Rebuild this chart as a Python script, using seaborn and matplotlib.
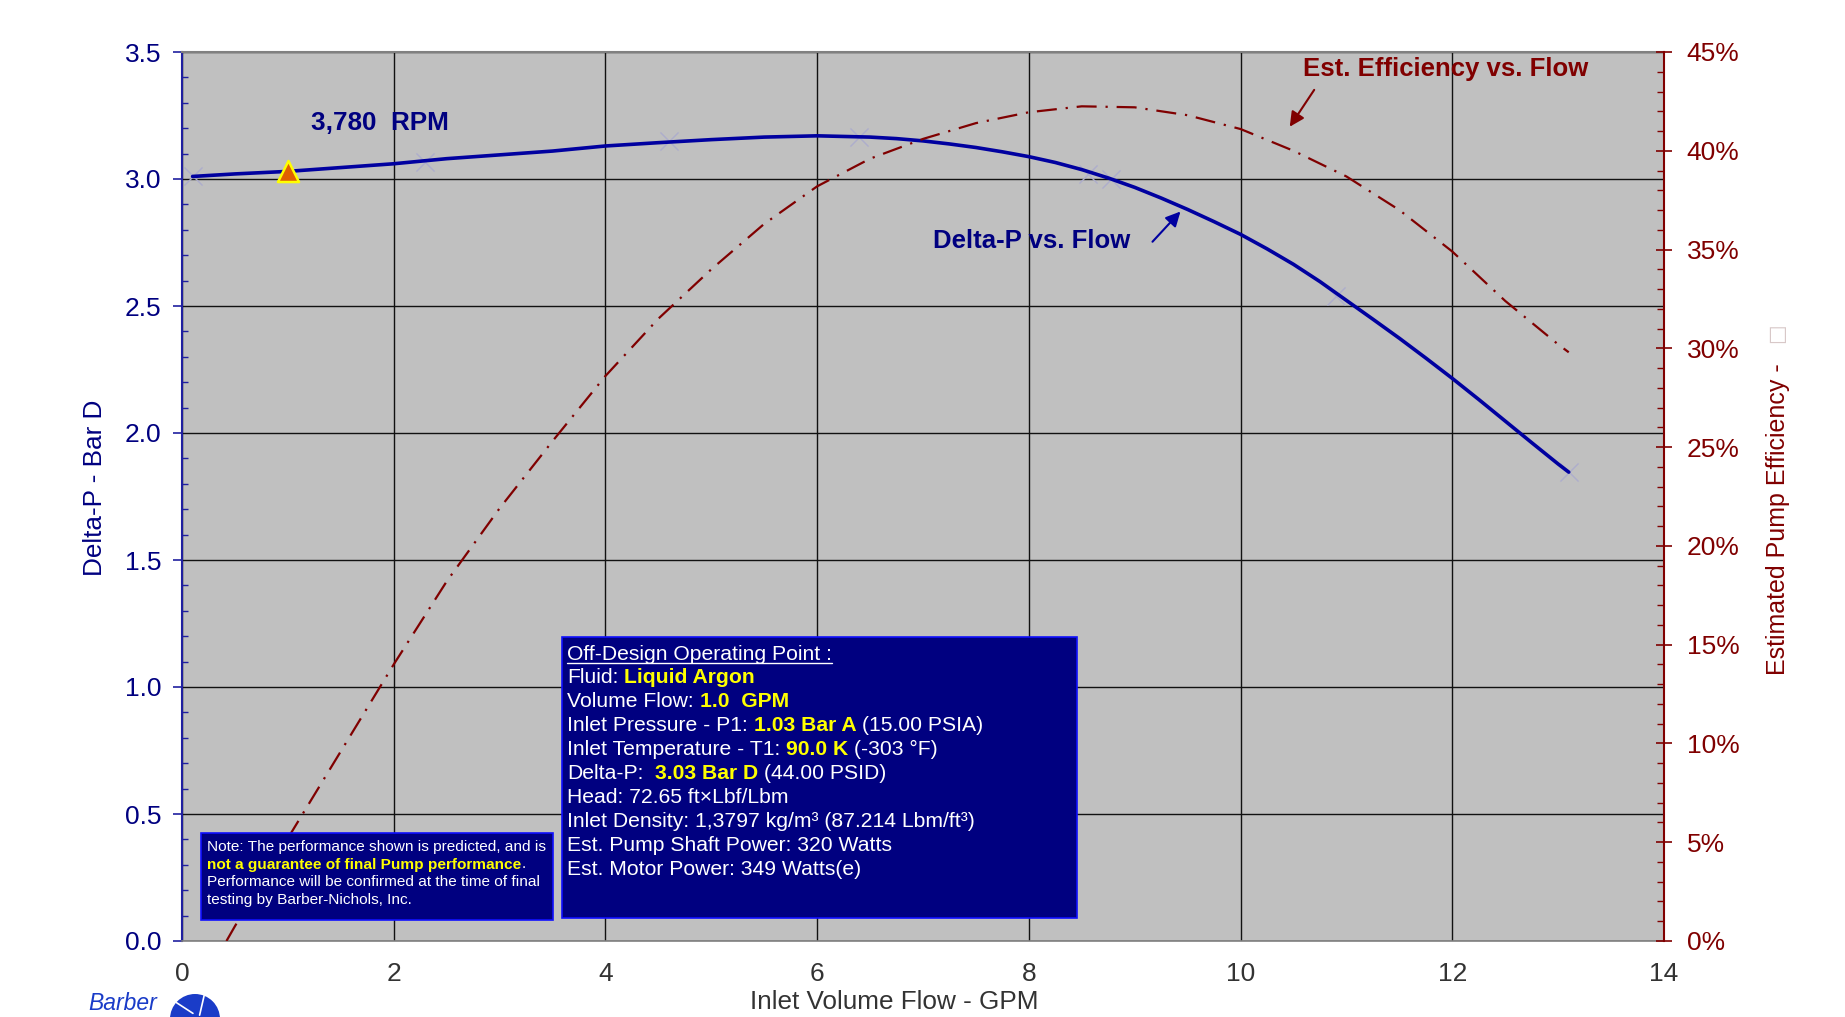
import numpy as np
import pandas as pd
import matplotlib
matplotlib.use('Agg')
import matplotlib.pyplot as plt
import seaborn as sns
from matplotlib.ticker import MultipleLocator, FuncFormatter
from matplotlib.patches import Rectangle, Circle
from matplotlib.lines import Line2D

# Delta-P vs flow curve (GPM, Bar D)
flow_dp = [0.1, 0.5, 1.0, 1.5, 2.0, 2.5, 3.0, 3.5, 4.0, 4.5, 5.0, 5.5, 6.0, 6.5, 6.75,
           7.0, 7.25, 7.5, 7.75, 8.0, 8.25, 8.5, 8.75, 9.0, 9.25, 9.5, 9.75, 10.0,
           10.25, 10.5, 10.75, 11.0, 11.25, 11.5, 11.75, 12.0, 12.25, 12.5, 12.75, 13.0, 13.1]
delta_p = [3.01, 3.02, 3.03, 3.045, 3.06, 3.08, 3.095, 3.11, 3.13, 3.143, 3.155, 3.165, 3.17, 3.165, 3.159,
           3.150, 3.138, 3.124, 3.107, 3.088, 3.065, 3.037, 3.004, 2.967, 2.925, 2.880, 2.832, 2.782,
           2.725, 2.664, 2.596, 2.522, 2.448, 2.373, 2.295, 2.215, 2.132, 2.047, 1.962, 1.878, 1.846]

# faint data markers sitting on the delta-P curve
flow_pts = [0.1, 2.3, 4.6, 6.4, 8.56, 8.78, 10.9, 13.1]
delta_p_pts = [3.01, 3.067, 3.15, 3.165, 3.02, 3.00, 2.54, 1.846]

# efficiency vs flow (%)
flow_eff = [0.42, 0.5, 1.0, 1.5, 2.0, 2.5, 3.0, 3.5, 4.0, 4.5, 5.0, 5.5, 6.0, 6.5,
            7.0, 7.5, 8.0, 8.5, 9.0, 9.5, 10.0, 10.5, 11.0, 11.5, 12.0, 12.5, 13.0, 13.1]
efficiency = [0.0, 0.75, 5.2, 9.6, 14.0, 18.2, 21.9, 25.3, 28.6, 31.5, 34.0, 36.3, 38.2, 39.6,
              40.6, 41.4, 41.95, 42.25, 42.2, 41.8, 41.1, 40.0, 38.7, 37.0, 34.9, 32.4, 30.2, 29.8]

# operating point
op_flow = [1.0]
op_dp = [3.03]

x_ticks = [0, 2, 4, 6, 8, 10, 12, 14]

info_lines = [
    [("Off-Design Operating Point :", "white", "normal")],
    [("Fluid: ", "white", "normal"), ("Liquid Argon", "#FFFF00", "bold")],
    [("Volume Flow: ", "white", "normal"), ("1.0  GPM", "#FFFF00", "bold")],
    [("Inlet Pressure - P1: ", "white", "normal"), ("1.03 Bar A", "#FFFF00", "bold"),
     (" (15.00 PSIA)", "white", "normal")],
    [("Inlet Temperature - T1: ", "white", "normal"), ("90.0 K", "#FFFF00", "bold"),
     (" (-303 °F)", "white", "normal")],
    [("Delta-P:  ", "white", "normal"), ("3.03 Bar D", "#FFFF00", "bold"),
     (" (44.00 PSID)", "white", "normal")],
    [("Head: 72.65 ft×Lbf/Lbm", "white", "normal")],
    [("Inlet Density: 1,3797 kg/m³ (87.214 Lbm/ft³)", "white", "normal")],
    [("Est. Pump Shaft Power: 320 Watts", "white", "normal")],
    [("Est. Motor Power: 349 Watts(e)", "white", "normal")],
]

note_lines = [
    [("Note: The performance shown is predicted, and is", "white", "normal")],
    [("not a guarantee of final Pump performance", "#FFFF00", "bold"), (".", "white", "normal")],
    [("Performance will be confirmed at the time of final", "white", "normal")],
    [("testing by Barber-Nichols, Inc.", "white", "normal")],
]

NAVY = '#000080'
BLUE = '#0000A0'
DARKRED = '#800000'

sns.set_style('white')
plt.rcParams['font.family'] = ['Liberation Sans', 'DejaVu Sans']

W, H = 1845, 1017
fig = plt.figure(figsize=(W / 100, H / 100), dpi=100)
r = fig.canvas.get_renderer()


def px(x, y):
    # pixel position measured from the top-left corner -> figure fraction
    return x / W, 1 - y / H


ax = fig.add_axes([182 / W, 1 - 941 / H, (1664 - 182) / W, (941 - 52) / H])
ax.set_facecolor('#C0C0C0')

sns.lineplot(x=flow_dp, y=delta_p, ax=ax, color=BLUE, lw=2.6, zorder=4)
sns.scatterplot(x=flow_pts, y=delta_p_pts, ax=ax, marker='x', s=170, color='#ADADCC',
                linewidth=1.0, zorder=3)
sns.scatterplot(x=op_flow, y=op_dp, ax=ax, marker='^', s=230, color='#E06000',
                edgecolor='#FFFF00', linewidth=1.8, zorder=5)

ax.set_xlim(0, 14)
ax.set_ylim(0, 3.5)
ax.set_xticks(x_ticks)
ax.yaxis.set_major_locator(MultipleLocator(0.5))
ax.yaxis.set_minor_locator(MultipleLocator(0.1))
ax.yaxis.set_major_formatter(FuncFormatter(lambda v, p: f'{v:.1f}'))
ax.grid(True, which='major', color='#111111', lw=1.0)
ax.set_xlabel('')
ax.set_ylabel('')

ax.tick_params(axis='y', which='major', direction='out', length=6.5, width=1.2,
               color='#2020A0', labelcolor=NAVY, labelsize=19, pad=8.5)
ax.tick_params(axis='y', which='minor', direction='in', length=4.3, width=1.0, color='#2020A0')
ax.tick_params(axis='x', which='major', direction='out', length=4.3, width=1.0,
               color='#808080', labelcolor='#333333', labelsize=19, pad=11)

ax.spines['left'].set_color('#2020A0')
ax.spines['left'].set_linewidth(1.5)
ax.spines['top'].set_color('#808080')
ax.spines['top'].set_linewidth(1.5)
ax.spines['bottom'].set_color('#808080')
ax.spines['bottom'].set_linewidth(1.2)
ax.spines['right'].set_visible(False)

ax2 = ax.twinx()
sns.lineplot(x=flow_eff, y=efficiency, ax=ax2, color=DARKRED, lw=1.6,
             linestyle=(0, (9, 4, 1, 4)), zorder=4)
ax2.set_ylim(0, 45)
ax2.set_ylabel('')
ax2.yaxis.set_major_locator(MultipleLocator(5))
ax2.yaxis.set_minor_locator(MultipleLocator(1))
ax2.yaxis.set_major_formatter(FuncFormatter(lambda v, p: f'{v:.0f}%'))
ax2.tick_params(axis='y', which='major', direction='inout', length=11.5, width=1.2,
                color=DARKRED, labelcolor=DARKRED, labelsize=19, pad=10.5)
ax2.tick_params(axis='y', which='minor', direction='in', length=5, width=1.0, color=DARKRED)
for side in ['left', 'top', 'bottom']:
    ax2.spines[side].set_visible(False)
ax2.spines['right'].set_color(DARKRED)
ax2.spines['right'].set_linewidth(1.5)

# curve labels
ax.text(1.22, 3.22, '3,780  RPM', color=NAVY, fontsize=18.8, fontweight='bold', va='center')
ax.text(7.09, 2.755, 'Delta-P vs. Flow', color=NAVY, fontsize=18.5, fontweight='bold', va='center')
ax.annotate('', xy=(9.45, 2.88), xytext=(9.15, 2.745),
            arrowprops=dict(arrowstyle='-|>', color=BLUE, lw=1.5, mutation_scale=22))
ax2.text(10.59, 44.15, 'Est. Efficiency vs. Flow', color=DARKRED, fontsize=18.5,
         fontweight='bold', va='center')
ax2.annotate('', xy=(10.45, 41.1), xytext=(10.71, 43.2),
             arrowprops=dict(arrowstyle='-|>', color=DARKRED, lw=1.5, mutation_scale=22))

# axis titles
fig.text(*px(95, 488), 'Delta-P - Bar D', rotation=90, ha='center', va='center',
         color=NAVY, fontsize=18.8)
fig.text(*px(1778, 519), 'Estimated Pump Efficiency -', rotation=90, ha='center',
         va='center', color=DARKRED, fontsize=18)
fig.text(*px(1776, 333), '□', rotation=90, ha='center', va='center',
         color='#D8C8C8', fontsize=15, family=['DejaVu Sans'])
fig.text(*px(894, 1009), 'Inlet Volume Flow - GPM', ha='center', va='baseline',
         color='#333333', fontsize=18.8)


def text_width(s, size, weight='normal'):
    t = fig.text(0, 0, s, fontsize=size, fontweight=weight)
    w = t.get_window_extent(r).width
    t.remove()
    return w


def rich_line(x, y, parts, size):
    sp = text_width('l l', size) - text_width('ll', size)
    first = None
    for s, color, weight in parts:
        core = s.strip(' ')
        lead = len(s) - len(s.lstrip(' '))
        trail = len(s) - len(s.rstrip(' '))
        x += lead * sp
        t = fig.text(*px(x, y), core, color=color, fontsize=size, fontweight=weight,
                     ha='left', va='baseline', zorder=6)
        if first is None:
            first = t
        x += t.get_window_extent(r).width + trail * sp
    return first


# operating point box
fig.add_artist(Rectangle(px(562, 918), 515 / W, 281 / H, transform=fig.transFigure,
                         facecolor='#000080', edgecolor='#1010FF', lw=1.2, zorder=5))
for i, parts in enumerate(info_lines):
    t = rich_line(567, 659.5 + 23.9 * i, parts, 15.2)
    if i == 0:
        bb = t.get_window_extent(r)
        yl = 1 - 662.5 / H
        fig.add_artist(Line2D([bb.x0 / W, bb.x1 / W], [yl, yl], transform=fig.transFigure,
                              color='white', lw=1.0, zorder=6))

# disclaimer box
fig.add_artist(Rectangle(px(201, 920), 352 / W, 87 / H, transform=fig.transFigure,
                         facecolor='#000080', edgecolor='#1010FF', lw=1.2, zorder=5))
for i, parts in enumerate(note_lines):
    rich_line(207, 850.7 + 17.8 * i, parts, 11.1)

# logo
fig.text(*px(88, 1004), 'Barber', style='italic', color='#1A3CC8', fontsize=16.5, va='center')
fig.add_artist(Circle((1.95, -0.02), 0.25, transform=fig.dpi_scale_trans,
                      facecolor='#1A3CC8', edgecolor='none', zorder=5))
for ang in [40, 110, 200, 290]:
    a = np.deg2rad(ang)
    fig.add_artist(Line2D([1.95 + 0.06 * np.cos(a), 1.95 + 0.25 * np.cos(a + 0.5)],
                          [-0.02 + 0.06 * np.sin(a), -0.02 + 0.25 * np.sin(a + 0.5)],
                          transform=fig.dpi_scale_trans, color='white', lw=1.2, zorder=6))

fig.savefig('out.png', dpi=100)
